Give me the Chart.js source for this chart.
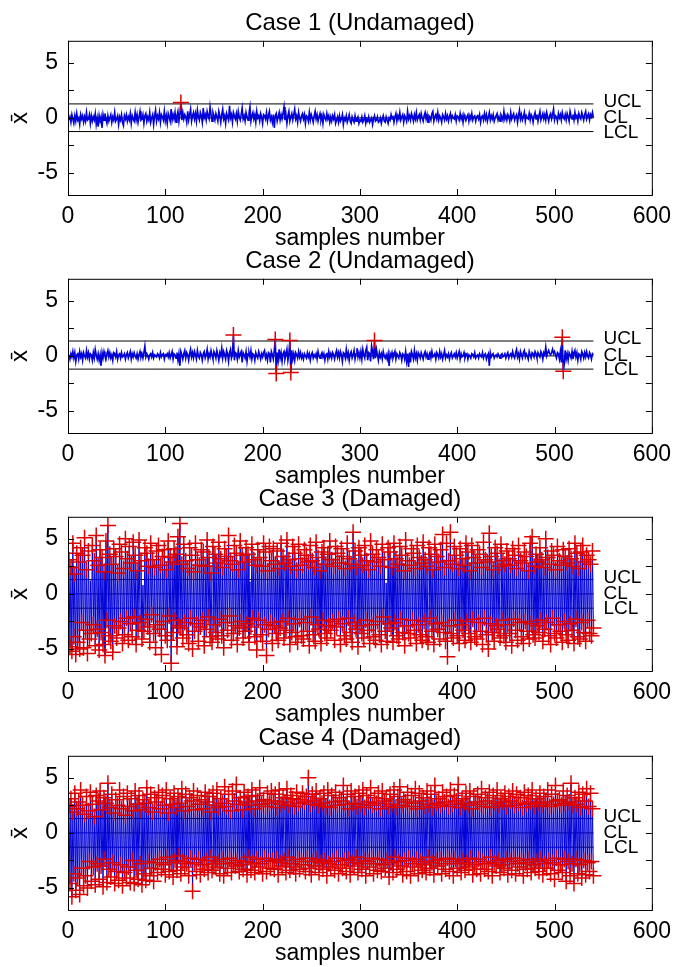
<!DOCTYPE html>
<html lang="en">
<head>
<meta charset="UTF-8">
<title>Control charts, cases 1-4</title>
<script src="https://cdn.jsdelivr.net/npm/chart.js"></script>
<style>
  body { margin: 0; background: #fff; overflow: hidden; }
  .panel { position: absolute; left: 0; width: 681px; height: 255px; }
</style>
</head>
<body>
<div class="panel" style="top:0px"><canvas id="c1" width="681" height="255"></canvas></div>
<div class="panel" style="top:238px"><canvas id="c2" width="681" height="255"></canvas></div>
<div class="panel" style="top:476px"><canvas id="c3" width="681" height="255"></canvas></div>
<div class="panel" style="top:715px"><canvas id="c4" width="681" height="255"></canvas></div>

<script>
// panel titles and axis ticks
var titles = ['Case 1 (Undamaged)', 'Case 2 (Undamaged)', 'Case 3 (Damaged)', 'Case 4 (Damaged)'];
var xTicks = [0, 100, 200, 300, 400, 500, 600];
var xLabels = ['0', '100', '200', '300', '400', '500', '600'];
var yTicks = [-5, -2.5, 0, 2.5, 5];
var yLabels = ['-5', '', '0', '', '5'];

// control limits per case
var ucl = [1.27, 1.35, 1.3, 1.3];
var cl = [0, 0, 0, 0];
var lcl = [-1.24, -1.2, -1.3, -1.3];

// x-bar values, samples 1..540
var case1 = [
  -.2,.1,-.4,.3,-.1,-.5,.2,-.3,.4,-.2,.0,-.6,.3,-.1,.2,-.4,.1,-.3,.5,-.2,-.1,.3,-.5,.2,-.3,.1,-.2,.4,-.6,.0,
  -.8,.2,-.3,.1,-.9,.3,-.2,.4,-.1,-.5,.2,-.3,.0,.3,-.4,.1,-.2,.5,-.3,-.1,.2,-.6,.1,-.2,.3,-.4,-.7,.2,-.1,.3,
  -.3,.1,-.2,.4,-.5,.2,-.1,-.3,.5,-.2,.3,-.4,.1,.6,-.2,-.1,.3,-.5,.2,.4,-.3,.1,-.2,.5,-.4,.0,.3,-.6,.2,.7,
  -.3,.2,-.1,.5,-.4,.3,.1,-.2,.6,-.3,.2,-.5,.4,.1,-.3,.8,-.2,.3,-.1,.5,-.4,.2,.6,-.3,.4,1.4,-.2,.5,-.1,.3,
  .1,-.4,.6,-.2,.3,.8,-.3,.2,.5,-.1,.4,-.3,.7,.1,-.2,.5,.2,-.4,.9,.0,.3,-.2,.6,.2,-.1,1.0,.3,-.3,.5,.2,
  -.2,.4,.1,-.3,.6,.2,-.4,.3,.8,-.1,.2,-.5,.4,.1,-.2,1.1,.0,.3,-.4,.5,.2,-.1,.4,-.3,.6,.1,-.2,.3,.9,-.1,
  .2,-.3,.5,.1,-.2,.4,1.0,-.3,.2,.5,-.1,.3,-.4,.6,.0,.2,-.3,.4,.1,-.5,.3,.2,-.1,.5,-.3,.2,.6,-.2,.1,-.4,
  .3,-.9,.2,.4,-.3,.1,.5,-.2,.3,-.1,.4,1.0,-.2,.3,-.5,.2,.6,-.3,.1,.4,-.2,.3,.8,-.1,.2,-.4,.5,.0,-.3,.2,
  .4,-.1,.3,-.5,.2,.1,-.3,.5,-.2,.3,.0,-.4,.2,.6,-.1,.3,-.3,.1,.4,-.2,.2,-.5,.3,.0,-.2,.4,-.1,.2,-.4,.1,
  -.3,.2,-.1,.3,-.5,-.2,.1,-.4,.2,-.3,-.1,.3,-.6,.0,-.2,.2,-.4,-.1,.3,-.3,-.5,.1,-.2,-.4,.2,-.3,-.1,.1,-.5,-.2,
  -.3,.1,-.4,-.2,.2,-.5,-.1,-.3,.1,-.4,-.2,.0,-.6,-.1,.2,-.3,-.2,.1,-.4,-.3,.0,-.5,-.1,.2,-.3,-.4,.1,-.2,-.5,.0,
  -.2,.3,-.1,.2,-.4,.1,.4,-.3,.2,-.1,.5,-.2,.1,.3,-.4,.2,.0,-.3,.6,-.1,.2,-.2,.4,.1,-.3,.3,-.1,.5,-.2,.1,
  .3,-.2,.4,.0,-.3,.2,.5,-.1,.3,-.4,.2,.1,-.2,.4,.6,-.3,.1,.3,-.1,.5,-.2,.2,.0,-.4,.3,.1,-.2,.4,-.1,.2,
  -.3,.1,.4,-.2,.2,.0,-.1,.3,-.3,.2,.1,-.2,.4,-.1,.2,-.4,.3,.0,-.2,.1,.3,-.3,.2,-.1,.4,-.2,.1,.2,-.3,.1,
  .2,-.1,.3,-.4,.1,.2,-.2,.4,-.1,.3,-.3,.1,.5,-.2,.2,-.1,.3,-.3,.0,.2,.4,-.2,.1,-.3,.3,.1,-.2,.6,-.1,.2,
  -.2,.3,.1,-.3,.5,-.1,.2,.4,-.2,.1,.3,-.4,.2,.7,-.1,.3,-.2,.1,.5,-.3,.2,.0,-.1,.4,-.2,.3,.1,-.4,.2,.5,
  -.1,.3,-.3,.2,.6,-.2,.1,.4,-.1,.3,-.2,.5,.1,-.3,.2,.4,-.1,.3,.8,-.2,.2,.1,-.3,.4,.0,.3,-.2,.5,.1,-.1,
  .3,-.2,.4,.1,-.3,.6,.2,-.1,.3,-.2,.5,.0,.2,-.3,.4,.1,-.1,.5,.2,-.2,.3,.6,-.1,.2,.4,-.2,.3,.1,.5,.0
];
var case2 = [
  .1,-.3,.2,-.1,.4,-.2,.3,-.5,.1,.2,-.3,.4,-.1,.2,-.4,.3,.0,-.2,.5,-.1,.3,-.3,.2,.1,-.4,.3,-.2,.6,.1,-.3,
  .2,-.4,.1,-.9,.3,-.2,.4,.0,-.3,.2,.5,-.1,.3,-.2,.1,-.4,.3,.2,-.1,.4,-.3,.1,.2,-.2,.3,-.1,.0,.2,-.3,.1,
  .3,-.2,.1,.4,-.3,.2,-.1,.3,.0,-.2,.2,-.3,.1,.4,-.1,.2,-.2,.3,.9,-.1,.2,.0,-.3,.1,.2,-.1,.3,-.2,.1,.0,
  -.1,.2,.1,-.2,.3,-.1,.1,.2,-.3,.1,.0,.2,-.1,.3,-.2,.1,.4,-.3,.2,.1,-.2,.3,-.4,.2,-.9,.4,.1,-.3,.2,.5,
  -.2,.3,.1,-.4,.2,.6,-.1,.3,-.2,.4,.1,-.3,.5,.0,-.2,.3,.1,-.4,.2,.4,-.2,.1,.6,-.3,.2,-.1,.5,.1,-.3,.4,
  .2,-.2,.5,.1,-.4,.3,.0,.7,-.2,.4,.1,-.3,.5,.2,-.5,.3,.6,-.2,.1,1.9,-.4,.3,.2,-.3,.5,-.1,.2,.4,-.6,.3,
  .1,-.2,.4,-.5,.2,.3,-.1,.5,-.3,.2,.1,-.4,.3,.0,-.2,.4,.1,-.3,.2,-.1,.3,.5,-.2,.1,-.4,.3,.2,-.6,.4,.1,
  -.3,.5,1.5,-1.6,.3,-.4,.6,-.2,.3,-.5,.2,.4,-.3,.1,.6,-.4,.2,1.4,-1.5,.5,-.3,.2,-.4,.3,.1,-.2,.4,-.1,.3,-.2,
  .1,-.3,.2,.0,-.2,.3,-.1,.2,-.4,.1,.3,-.2,.1,-.1,.2,-.3,.4,.0,-.2,.1,.3,-.1,.2,-.4,.1,.2,-.3,.4,-.1,.2,
  -.2,.3,.1,-.3,.2,.5,-.1,.3,-.2,.4,.1,-.5,.3,.2,-.2,.6,-.1,.3,-.4,.2,.4,-.2,.1,.5,-.3,.2,.7,-.1,.3,-.2,
  .4,-.3,.6,.1,-.2,.5,.8,-.4,.3,.2,-.5,.9,.4,-.3,1.4,-.2,.6,.1,-.4,.3,-.1,.2,-.3,.4,.0,-.2,.1,-.3,.2,-.9,
  .2,-.1,.3,-.2,.1,.4,-.3,.2,.0,-.2,.3,.1,-.4,.2,.1,-.3,.4,-.5,.2,-1.0,.3,-.6,.4,.1,-.3,.5,-.2,.2,-.4,.3,
  .1,-.2,.3,.0,-.3,.2,.4,-.1,.2,-.3,.1,.3,-.2,.4,-.1,.0,.2,-.3,.3,.1,-.2,.4,-.1,.2,-.3,.1,.5,-.2,.1,-.1,
  .2,-.3,.1,.3,-.2,.0,.2,-.1,.3,-.2,.1,.4,-.3,.2,-.1,.0,.3,-.2,.1,.2,-.3,.1,.0,-.2,.2,.1,-.1,.3,-.2,.0,
  .1,-.2,.2,.0,-.1,.3,-.2,.1,.2,-.3,.0,.2,-.9,.3,-.1,.1,.2,-.2,.0,.1,-.1,.2,.0,-.2,.1,.2,-.1,.0,.2,-.2,
  .1,.3,-.2,.1,.2,-.1,.4,.0,-.2,.3,.6,-.1,.2,-.3,.4,.1,-.2,.3,.5,-.1,.2,.0,-.3,.4,.1,-.2,.3,.2,-.1,.4,
  .2,-.2,.3,.1,-.1,.4,.2,-.3,.3,.1,.8,.0,.3,.5,.2,.1,.3,.6,.2,.4,.1,-.2,.3,.2,-.3,.4,-.6,1.7,-1.4,-.8,
  .5,-.3,.2,-.4,.3,.1,-.2,.4,-.3,.2,.5,-.1,.3,-.4,.2,.1,-.3,.4,.2,-.2,.3,-.1,.4,.0,-.2,.3,.1,-.3,.2,.1
];
var case3 = [
  3.1,-4.8,2.4,-5.2,4.6,-3.9,1.8,-5.5,3.7,-4.4,2.9,-5.0,4.2,-2.6,3.5,-4.9,5.1,-3.3,2.2,-5.4,3.9,-4.1,1.2,-3.6,4.4,-2.8,3.0,-4.7,5.3,-3.2,
  2.6,-5.1,4.0,-3.5,3.3,-4.6,2.0,-5.6,4.8,-2.4,6.2,-3.8,3.6,-4.3,2.7,-5.3,4.1,-2.9,3.4,-4.0,1.9,-3.1,4.5,-2.5,3.8,-4.5,2.3,-3.7,5.0,-2.2,
  3.2,-4.2,4.3,-2.7,2.8,-3.9,4.7,-2.1,3.5,-4.6,2.1,-3.3,4.9,-2.6,3.0,-4.1,0.8,-3.4,4.2,-2.3,3.7,-3.0,2.5,-4.4,4.6,-1.9,3.1,-3.6,2.4,-4.9,
  3.9,-2.8,4.4,-3.2,2.6,-5.5,3.4,-2.5,4.0,-3.8,2.2,-4.2,4.8,-2.0,3.3,-6.3,2.9,-3.5,4.1,-2.4,3.6,-4.8,5.2,-2.9,6.4,-3.1,2.7,-4.0,4.5,-2.6,
  3.0,-3.7,2.3,-4.5,4.2,-2.2,3.5,-5.0,2.0,-3.4,4.6,-2.7,3.1,-4.3,2.6,-3.0,4.0,-2.4,3.8,-4.7,2.5,-3.2,4.9,-2.1,3.3,-3.9,1.9,-4.4,4.3,-2.8,
  3.6,-3.5,2.8,-4.1,4.7,-2.3,3.2,-3.8,2.4,-4.9,4.1,-2.6,3.4,-3.3,5.3,-2.0,3.0,-4.2,2.7,-3.6,4.4,-2.9,3.7,-4.6,2.2,-3.1,4.8,-2.5,3.5,-4.0,
  2.9,-3.4,4.2,-2.7,3.6,-4.4,1.1,-3.0,4.5,-2.2,3.1,-3.9,2.6,-5.1,4.0,-2.4,3.3,-3.7,2.5,-4.3,4.6,-2.8,3.8,-5.6,2.1,-3.2,4.3,-2.6,3.0,-4.5,
  4.1,-2.9,2.7,-3.6,3.9,-4.2,2.3,-3.1,4.6,-2.5,3.4,-4.0,2.8,-3.3,4.9,-2.2,3.1,-4.6,2.5,-3.5,4.3,-2.7,3.7,-3.9,2.2,-4.4,4.5,-2.3,3.2,-3.8,
  2.6,-4.1,4.0,-2.6,3.5,-3.4,2.9,-4.7,4.4,-2.1,3.0,-3.7,2.4,-4.3,4.7,-2.8,3.3,-3.2,2.1,-4.5,3.8,-2.4,4.2,-3.6,2.7,-4.0,3.6,-2.9,4.8,-3.3,
  3.1,-2.5,2.5,-4.2,4.3,-3.0,3.7,-2.3,2.8,-4.6,4.1,-2.7,3.4,-3.8,2.3,-4.1,4.6,-2.2,3.2,-3.5,2.7,-4.4,5.6,-2.6,3.9,-3.2,2.4,-4.8,4.2,-2.9,
  3.5,-3.6,2.6,-4.0,4.4,-2.4,3.0,-3.3,2.2,-4.5,4.8,-2.8,3.6,-3.9,2.9,-4.2,4.0,-2.5,3.3,-3.7,2.5,-4.6,4.5,-2.1,3.1,-3.4,1.0,-4.3,4.2,-2.7,
  3.8,-3.1,2.4,-4.4,4.6,-2.6,3.2,-3.8,2.7,-4.1,4.3,-2.3,3.5,-3.5,2.1,-4.7,4.9,-2.9,3.0,-3.6,2.6,-4.0,4.1,-2.4,3.7,-3.3,2.3,-4.5,4.4,-2.8,
  3.3,-3.7,2.8,-4.2,4.7,-2.5,3.1,-3.9,2.5,-4.4,4.2,-2.2,3.6,-3.4,2.2,-4.6,4.5,-2.7,3.4,-3.2,2.9,-4.1,4.0,-2.6,5.4,-3.5,2.4,-4.3,4.6,-5.7,
  3.0,-2.9,5.6,-3.6,2.7,-4.0,4.3,-2.4,3.5,-3.8,2.3,-4.5,4.1,-2.8,3.2,-3.3,2.6,-4.2,4.6,-2.5,3.8,-3.6,2.1,-4.4,4.4,-2.3,3.3,-3.9,2.8,-4.1,
  4.0,-2.6,3.6,-3.4,2.4,-4.6,4.7,-2.2,3.1,-3.7,2.9,-5.0,5.5,-2.7,3.4,-3.5,2.2,-4.3,4.2,-2.9,3.7,-3.2,2.5,-4.0,4.5,-2.4,3.0,-3.8,2.7,-4.4,
  3.9,-2.8,3.2,-3.6,2.6,-4.7,4.1,-2.3,3.5,-3.3,2.3,-4.2,4.4,-2.6,3.0,-3.9,2.8,-4.5,3.8,-2.5,3.4,-3.4,2.1,-4.1,4.6,-2.7,5.2,-3.7,2.5,-4.0,
  3.6,-2.9,2.9,-3.5,4.2,-2.4,3.1,-4.3,2.4,-3.2,5.0,-2.6,3.3,-3.8,2.7,-4.6,3.9,-2.2,3.5,-3.6,2.2,-4.0,4.3,-2.8,3.0,-3.4,2.6,-4.4,4.0,-2.5,
  3.4,-3.7,2.8,-4.2,4.1,-2.7,3.2,-3.3,2.5,-4.5,4.6,-2.3,3.7,-3.9,2.3,-4.1,3.8,-2.6,4.4,-3.5,2.9,-4.3,3.5,-2.4,3.1,-3.6,2.7,-3.8,3.9,-3.1
];
var case4 = [
  2.4,-4.6,3.1,-5.8,1.9,-3.7,3.6,-5.2,2.2,-4.1,2.8,-5.6,3.9,-3.2,2.5,-4.8,1.7,-3.9,3.3,-5.0,2.0,-2.6,3.7,-4.4,2.6,-3.1,1.5,-4.7,3.4,-2.8,
  2.9,-4.2,3.8,-3.0,2.1,-4.9,3.2,-2.4,2.7,-4.5,4.5,-3.3,2.3,-4.0,3.5,-2.7,1.8,-4.6,3.0,-3.5,2.5,-4.3,3.9,-2.9,2.2,-4.8,3.3,-3.6,1.6,-4.1,
  3.6,-3.1,2.4,-4.5,3.1,-2.5,2.0,-4.6,3.8,-3.4,2.6,-4.2,3.4,-2.8,2.1,-4.7,3.0,-3.7,2.7,-4.3,4.1,-2.6,2.3,-3.9,3.5,-3.2,1.9,-4.4,3.2,-2.7,
  2.8,-3.6,3.7,-2.4,2.2,-3.3,3.4,-2.9,2.5,-3.8,3.9,-2.2,1.8,-3.5,3.1,-2.7,2.6,-4.0,3.6,-2.5,2.3,-3.4,3.3,-2.1,2.7,-3.7,4.0,-2.6,2.0,-3.1,
  3.5,-2.8,2.4,-3.9,3.2,-2.3,2.9,-5.3,3.8,-2.7,2.1,-3.5,3.4,-2.4,2.6,-3.8,3.0,-2.9,2.2,-3.3,3.7,-2.5,2.8,-3.6,3.3,-2.2,1.9,-3.4,3.6,-2.8,
  2.5,-3.1,3.9,-2.6,2.3,-3.7,3.1,-2.4,2.7,-3.9,4.2,-2.8,2.4,-3.2,3.5,-2.3,2.0,-3.6,3.8,-2.7,2.9,-3.0,4.4,-2.5,2.6,-3.5,3.2,-2.9,2.1,-3.3,
  3.7,-2.6,2.8,-3.8,3.3,-2.2,2.5,-3.4,3.9,-2.7,2.2,-3.6,3.4,-2.4,2.9,-3.1,4.1,-2.8,2.6,-3.7,3.0,-2.3,2.4,-3.5,3.6,-2.6,2.7,-3.2,3.8,-2.5,
  2.9,-3.3,3.5,-2.4,2.3,-3.8,3.9,-2.7,2.6,-3.0,3.2,-2.5,2.8,-3.6,4.0,-2.2,2.5,-3.4,3.4,-2.8,3.1,-3.1,2.4,-3.7,3.7,-2.4,2.7,-3.3,3.0,-2.6,
  3.6,-2.9,2.8,-3.5,3.3,-2.3,5.0,-3.2,2.6,-3.8,3.5,-2.6,2.9,-3.0,3.8,-2.4,2.5,-3.6,3.1,-2.7,2.7,-3.3,3.6,-2.5,2.4,-3.9,3.9,-2.8,2.3,-3.1,
  3.4,-2.6,2.8,-3.4,3.7,-2.3,2.5,-3.7,3.2,-2.9,2.9,-3.2,4.3,-2.5,2.6,-3.5,3.5,-2.4,2.2,-3.8,3.8,-2.7,2.7,-3.0,3.3,-2.2,2.4,-3.6,3.6,-2.8,
  2.6,-3.3,3.9,-2.5,2.3,-3.9,3.4,-2.6,2.8,-3.1,4.1,-2.3,2.5,-3.7,3.2,-2.8,2.7,-3.4,3.6,-2.4,2.2,-3.5,3.8,-2.9,2.9,-3.2,3.1,-2.5,2.4,-4.0,
  3.5,-2.7,2.6,-3.6,3.9,-2.2,2.3,-3.3,3.3,-2.6,4.2,-3.0,2.5,-3.8,3.0,-2.5,2.8,-3.5,3.7,-2.3,2.4,-3.9,3.4,-2.8,2.7,-3.1,4.0,-2.4,2.2,-3.7,
  3.6,-2.6,2.9,-3.4,3.2,-2.9,2.4,-3.6,3.8,-2.2,2.6,-3.2,3.5,-2.7,2.3,-3.8,4.3,-2.5,2.7,-3.0,3.1,-2.4,2.5,-3.7,3.7,-2.8,2.8,-3.3,3.3,-2.3,
  2.4,-3.5,3.9,-2.6,2.6,-3.9,3.4,-2.4,2.9,-3.2,4.4,-2.8,2.3,-3.6,3.1,-2.5,2.7,-3.4,3.6,-2.7,2.5,-3.1,3.8,-2.3,2.2,-3.8,3.3,-2.9,2.8,-3.3,
  3.5,-2.4,2.6,-3.7,4.0,-2.6,2.4,-3.3,3.2,-2.8,2.9,-3.5,3.7,-2.2,2.3,-3.9,3.4,-2.7,2.7,-3.0,3.9,-2.5,2.5,-3.6,3.1,-2.9,2.8,-3.2,3.6,-2.4,
  2.4,-3.8,3.3,-2.6,2.9,-3.4,3.8,-2.3,2.5,-3.7,3.5,-2.8,2.7,-3.1,3.2,-2.5,2.3,-3.9,3.7,-2.7,2.6,-3.3,3.4,-2.4,2.8,-3.6,3.9,-2.9,2.4,-3.2,
  3.1,-2.6,2.7,-3.5,3.6,-2.4,2.5,-3.8,3.3,-2.8,2.8,-3.2,3.9,-2.5,2.4,-3.7,3.5,-2.7,2.6,-4.2,4.3,-2.3,2.9,-3.4,3.0,-2.9,2.5,-3.6,3.8,-2.4,
  2.7,-4.4,3.4,-2.6,2.8,-3.9,4.5,-2.8,2.5,-4.6,3.2,-2.4,2.6,-3.7,3.7,-2.9,2.3,-4.1,3.5,-2.5,2.9,-3.8,4.0,-2.7,2.4,-3.5,3.6,-2.6,2.2,-3.9
];
var series = [case1, case2, case3, case4];

// blue trace width per panel (the dense damaged traces are drawn thinner)
var traceWidth = [1.6, 1.6, 1, 1];

Chart.defaults.font.family = '"Liberation Sans", Arial, Helvetica, sans-serif';
Chart.defaults.color = '#000';

// box round the plot with inward ticks on all four sides
var frame = {
  id: 'frame',
  afterDraw: function (chart) {
    var a = chart.chartArea, ctx = chart.ctx;
    var xs = chart.scales.x, ys = chart.scales.y;
    ctx.save();
    ctx.strokeStyle = '#000';
    ctx.lineWidth = 1;
    ctx.strokeRect(a.left + 0.5, a.top + 0.5, a.right - a.left, a.bottom - a.top);
    ctx.beginPath();
    xTicks.forEach(function (v) {
      var px = Math.round(xs.getPixelForValue(v)) + 0.5;
      ctx.moveTo(px, a.bottom); ctx.lineTo(px, a.bottom - 6);
      ctx.moveTo(px, a.top); ctx.lineTo(px, a.top + 6);
    });
    yTicks.forEach(function (v) {
      var py = Math.round(ys.getPixelForValue(v)) + 0.5;
      ctx.moveTo(a.left, py); ctx.lineTo(a.left + 6, py);
      ctx.moveTo(a.right, py); ctx.lineTo(a.right - 6, py);
    });
    ctx.stroke();
    ctx.restore();
  }
};

function panel(id, k) {
  var vals = series[k];
  var n = vals.length;
  var pts = vals.map(function (v, i) { return { x: i + 1, y: v }; });
  var out = pts.filter(function (p) { return p.y > ucl[k] || p.y < lcl[k]; });
  function hline(v) { return [{ x: 1, y: v }, { x: n, y: v }]; }

  // UCL / CL / LCL text at the end of the limit lines
  var limitText = {
    id: 'limitText',
    afterDatasetsDraw: function (chart) {
      var ctx = chart.ctx, xs = chart.scales.x, ys = chart.scales.y;
      var x0 = xs.getPixelForValue(n) + 10;
      ctx.save();
      ctx.fillStyle = '#000';
      ctx.font = '19px "Liberation Sans", Arial, sans-serif';
      ctx.textBaseline = 'middle';
      ctx.fillText('UCL', x0, ys.getPixelForValue(ucl[k]) - 2);
      ctx.fillText('CL', x0, ys.getPixelForValue(cl[k]));
      ctx.fillText('LCL', x0, ys.getPixelForValue(lcl[k]) + 1);
      ctx.restore();
    }
  };

  new Chart(document.getElementById(id), {
    type: 'line',
    data: {
      datasets: [
        { data: out, showLine: false, pointStyle: 'cross', pointRadius: 8,
          pointBorderColor: '#dd0000', pointBorderWidth: 1.5, borderColor: '#dd0000' },
        { data: pts, borderColor: '#0000d8', borderWidth: traceWidth[k], pointRadius: 0 },
        { data: hline(ucl[k]), borderColor: '#000', borderWidth: 1, pointRadius: 0 },
        { data: hline(lcl[k]), borderColor: '#000', borderWidth: 1, pointRadius: 0 },
        { data: hline(cl[k]), borderColor: '#000', borderWidth: 1, pointRadius: 0 }
      ]
    },
    options: {
      responsive: false,
      animation: false,
      events: [],
      layout: { padding: { left: 0, right: 24, top: 0, bottom: 6 } },
      plugins: {
        legend: { display: false },
        tooltip: { enabled: false },
        title: {
          display: true, fullSize: false, text: titles[k], color: '#000',
          font: { size: 24, weight: 'normal', lineHeight: 1.2 },
          padding: { top: 9, bottom: 3 }
        }
      },
      scales: {
        x: {
          type: 'linear', min: 0, max: 600,
          afterBuildTicks: function (s) { s.ticks = xTicks.map(function (v) { return { value: v }; }); },
          afterFit: function (s) { s.height = 54; },
          grid: { display: false, drawTicks: false },
          border: { display: false },
          ticks: {
            autoSkip: false, maxRotation: 0, padding: 10,
            font: { size: 23, lineHeight: 1 },
            callback: function (v, i) { return xLabels[i]; }
          },
          title: { display: true, text: 'samples number', font: { size: 23, lineHeight: 0.9 }, padding: 0 }
        },
        y: {
          type: 'linear', min: -7, max: 7,
          afterBuildTicks: function (s) { s.ticks = yTicks.map(function (v) { return { value: v }; }); },
          afterFit: function (s) { s.width = 68; },
          grid: { display: false, drawTicks: false },
          border: { display: false },
          ticks: {
            autoSkip: false, padding: 10,
            font: { size: 23, lineHeight: 1 },
            callback: function (v, i) { return yLabels[i]; }
          },
          title: { display: true, text: 'x\u0304', font: { size: 24, lineHeight: 1 }, padding: { top: 8, bottom: 0 } }
        }
      }
    },
    plugins: [limitText, frame]
  });
}

panel('c1', 0);
panel('c2', 1);
panel('c3', 2);
panel('c4', 3);
</script>
</body>
</html>
